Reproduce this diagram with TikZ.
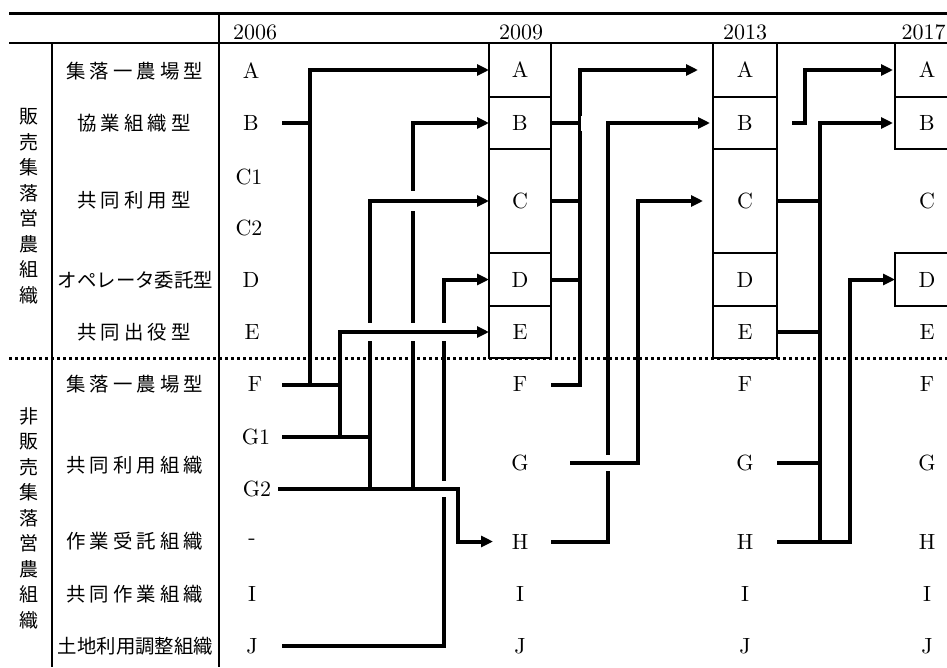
\documentclass[tikz,border=0pt]{standalone}
\usepackage{fontspec}
\setmainfont{lmroman10-regular.otf}
\newfontfamily\jp{Noto Sans CJK JP}
\usetikzlibrary{arrows.meta,calc}
\newcommand\jspread[2]{\makebox[#1][s]{#2}}
\newcommand\hopgap[2]{\fill[white] ($#1+(-3.2,-#2)$) rectangle ($#1+(3.2,#2)$);}
\begin{document}
\begin{tikzpicture}[x=1pt,y=-1pt,
  conn/.style={line width=4pt},
  arr/.style={conn,-{Triangle[length=12pt,width=11pt]}},
  rulethin/.style={line width=2.5pt},
  cellbox/.style={draw,line width=2pt,inner sep=0pt,outer sep=0pt,font=\fontsize{22}{22}\selectfont},
  cellplain/.style={inner sep=0pt,outer sep=0pt,font=\fontsize{22}{22}\selectfont},
  lt/.style={inner sep=0pt,font=\fontsize{22}{22}\selectfont},
  jl/.style={inner sep=0pt,font=\jp\fontsize{19.4}{19.4}\selectfont},
  jv/.style={inner sep=0pt,align=center,font=\jp\fontsize{19}{25.5}\selectfont},
]
\useasboundingbox (0,0) rectangle (947,667);
\clip (0,0) rectangle (947,667);

% table rules
\draw[line width=3pt] (9,13) -- (947,13);
\draw[rulethin] (9,43) -- (947,43);
\draw[rulethin] (52,43) -- (52,667);
\draw[rulethin] (219,13) -- (219,667);
\draw[line width=2.5pt,dash pattern=on 3pt off 3pt] (9,358.5) -- (947,358.5);

% years
\node[lt] (y06) at (255,32) {2006};
\node[lt] (y09) at (521,32) {2009};
\node[lt] (y13) at (745,32) {2013};
\node[lt] (y17) at (923.5,32) {2017};

% group labels
\node[jv] (grpS) at (29,206) {販\\売\\集\\落\\営\\農\\組\\織};
\node[jv] (grpN) at (29,518) {非\\販\\売\\集\\落\\営\\農\\組\\織};

% row labels
\node[jl] (LA) at (134.5,71) {\jspread{137pt}{集\hfill 落\hfill 一\hfill 農\hfill 場\hfill 型}};
\node[jl] (LB) at (134,123) {\jspread{114pt}{協\hfill 業\hfill 組\hfill 織\hfill 型}};
\node[jl] (LC) at (134,200) {\jspread{114pt}{共\hfill 同\hfill 利\hfill 用\hfill 型}};
\node[jl] (LD) at (135.5,280) {オペレータ委託型};
\node[jl] (LE) at (134,332) {\jspread{114pt}{共\hfill 同\hfill 出\hfill 役\hfill 型}};
\node[jl] (LF) at (134.5,384.5) {\jspread{137pt}{集\hfill 落\hfill 一\hfill 農\hfill 場\hfill 型}};
\node[jl] (LG) at (134.5,465) {\jspread{137pt}{共\hfill 同\hfill 利\hfill 用\hfill 組\hfill 織}};
\node[jl] (LH) at (134.5,541.5) {\jspread{137pt}{作\hfill 業\hfill 受\hfill 託\hfill 組\hfill 織}};
\node[jl] (LI) at (134.5,594) {\jspread{137pt}{共\hfill 同\hfill 作\hfill 業\hfill 組\hfill 織}};
\node[jl] (LJ) at (135.5,646) {土地利用調整組織};

% 2006 column
\node[lt] (A06) at (251,71) {A};
\node[lt] (B06) at (251,123) {B};
\node[lt] (C106) at (249,177) {C1};
\node[lt] (C206) at (249,228) {C2};
\node[lt] (D06) at (251,280) {D};
\node[lt] (E06) at (252,332) {E};
\node[lt] (F06) at (255,384.5) {F};
\node[lt] (G106) at (256,437) {G1};
\node[lt] (G206) at (257,489) {G2};
\node[lt] (H06) at (252,541.5) {-};
\node[lt] (I06) at (252,594) {I};
\node[lt] (J06) at (252,646) {J};

% 2009 column
\node[cellbox,minimum width=62pt,minimum height=54pt] (A09) at (520,70) {A};
\node[cellbox,minimum width=62pt,minimum height=52pt] (B09) at (520,123) {B};
\node[cellbox,minimum width=62pt,minimum height=104pt] (C09) at (520,201) {C};
\node[cellbox,minimum width=62pt,minimum height=53pt] (D09) at (520,279.5) {D};
\node[cellbox,minimum width=62pt,minimum height=52pt] (E09) at (520,332) {E};
\node[cellplain,minimum width=62pt] (F09) at (520,384.5) {F};
\node[cellplain,minimum width=62pt] (G09) at (520,463) {G};
\node[cellplain,minimum width=62pt] (H09) at (520,541.5) {H};
\node[cellplain,minimum width=62pt] (I09) at (520,594) {I};
\node[cellplain,minimum width=62pt] (J09) at (520,646) {J};

% 2013 column
\node[cellbox,minimum width=64pt,minimum height=54pt] (A13) at (745,70) {A};
\node[cellbox,minimum width=64pt,minimum height=52pt] (B13) at (745,123) {B};
\node[cellbox,minimum width=64pt,minimum height=104pt] (C13) at (745,201) {C};
\node[cellbox,minimum width=64pt,minimum height=53pt] (D13) at (745,279.5) {D};
\node[cellbox,minimum width=64pt,minimum height=52pt] (E13) at (745,332) {E};
\node[cellplain,minimum width=64pt] (F13) at (745,384.5) {F};
\node[cellplain,minimum width=64pt] (G13) at (745,463) {G};
\node[cellplain,minimum width=64pt] (H13) at (745,541.5) {H};
\node[cellplain,minimum width=64pt] (I13) at (745,594) {I};
\node[cellplain,minimum width=64pt] (J13) at (745,646) {J};

% 2017 column
\node[cellbox,minimum width=64pt,minimum height=54pt] (A17) at (927,70) {A};
\node[cellbox,minimum width=64pt,minimum height=52pt] (B17) at (927,123) {B};
\node[cellplain,minimum width=64pt] (C17) at (927,201) {C};
\node[cellbox,minimum width=64pt,minimum height=53pt] (D17) at (927,279.5) {D};
\node[cellplain,minimum width=64pt] (E17) at (927,332) {E};
\node[cellplain,minimum width=64pt] (F17) at (927,384.5) {F};
\node[cellplain,minimum width=64pt] (G17) at (927,463) {G};
\node[cellplain,minimum width=64pt] (H17) at (927,541.5) {H};
\node[cellplain,minimum width=64pt] (I17) at (927,594) {I};
\node[cellplain,minimum width=64pt] (J17) at (927,646) {J};

% trunk positions
\coordinate (s06) at (282,0);
\coordinate (s06b) at (278,0);
\coordinate (x310) at (310,0);
\coordinate (x340) at (340,0);
\coordinate (x370) at (370,0);
\coordinate (x413) at (413,0);
\coordinate (x444) at (444,0);
\coordinate (x458) at (458,0);
\coordinate (g09s) at (570,0);
\coordinate (x580) at (580,0);
\coordinate (x608) at (608,0);
\coordinate (x638) at (638,0);
\coordinate (b13s) at (792,0);
\coordinate (x805) at (805,0);
\coordinate (x820) at (820,0);
\coordinate (x850) at (850,0);

% ---- 2006 -> 2009 ----
\draw[arr] (J06 -| s06) -- (J06 -| x444) -- (D09.west -| x444) -- (D09.west);
\draw[arr] (G206 -| x413) -- (B09.west -| x413) -- (B09.west);
\hopgap{(G206 -| x444)}{8}
\hopgap{(C09.west -| x413)}{10}
\draw[arr] (G206 -| s06b) -- (G206 -| x458) -- (H09 -| x458) -- ([xshift=4pt]H09.west);
\draw[arr] (G206 -| x370) -- (C09.west -| x370) -- (C09.west);
\hopgap{(E09.west -| x370)}{9}
\hopgap{(E09.west -| x413)}{9}
\hopgap{(E09.west -| x444)}{9}
\draw[arr] (G106 -| x340) -- (E09.west -| x340) -- (E09.west);
\draw[conn] (G106 -| s06) -- (G106 -| x370);
\draw[conn] (F06 -| s06) -- (F06 -| x340);
\draw[conn] (B06 -| s06) -- (B06 -| x310);
\draw[arr] (F06 -| x310) -- (A09.west -| x310) -- (A09.west);

% ---- 2009 -> 2013 ----
\draw[arr,shorten >=15pt] (F09.east) -- (F09.east -| x580) -- (A13.west -| x580) -- (A13.west);
\draw[conn] (B09.east) -- (B09.east -| x580);
\draw[conn] (C09.east) -- (C09.east -| x580);
\draw[conn] (D09.east) -- (D09.east -| x580);
\fill[white] ($(B09.east -| x580)+(0.6,-7)$) rectangle ($(B09.east -| x580)+(2.6,8)$);
\draw[arr] (H09.east) -- (H09.east -| x608) -- (B13.west -| x608) -- ([xshift=-3pt]B13.west);
\hopgap{(G09 -| x608)}{8}
\draw[arr,shorten >=10pt] (G09 -| g09s) -- (G09 -| x638) -- (C13.west -| x638) -- (C13.west);

% ---- 2013 -> 2017 ----
\draw[arr] (B13 -| b13s) -- (B13 -| x805) -- (A17.west -| x805) -- ([xshift=-2pt]A17.west);
\draw[arr] (H13.east -| x820) -- (B17.west -| x820) -- ([xshift=-2pt]B17.west);
\draw[conn] (C13.east) -- (C13.east -| x820);
\draw[conn] (E13.east) -- (E13.east -| x820);
\draw[conn] (G13.east) -- (G13.east -| x820);
\draw[arr] (H13.east) -- (H13.east -| x850) -- (D17.west -| x850) -- (D17.west);
\end{tikzpicture}
\end{document}
